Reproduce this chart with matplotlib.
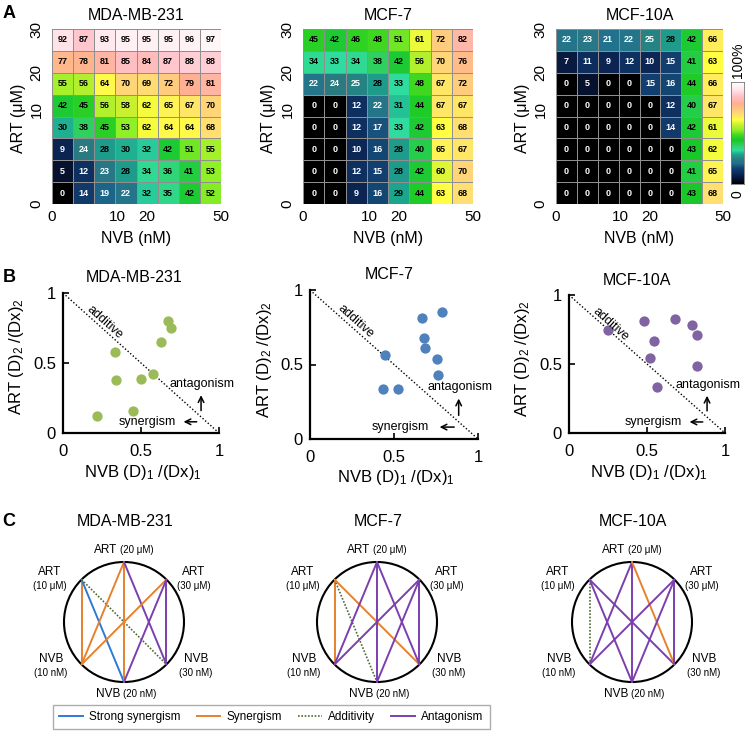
"""Combination heatmaps, isobolograms and interaction networks (ART + NVB)."""

import matplotlib
matplotlib.use('Agg')
import matplotlib.pyplot as plt
import numpy as np
from matplotlib.colors import LinearSegmentedColormap
from matplotlib.lines import Line2D
from matplotlib.patches import Circle

plt.rcParams['font.family'] = ['Liberation Sans', 'DejaVu Sans']
plt.rcParams['mathtext.fontset'] = 'custom'
plt.rcParams['mathtext.rm'] = 'Liberation Sans'
plt.rcParams['mathtext.it'] = 'Liberation Sans:italic'

W, H = 746, 734

# ---- data -----------------------------------------------------------------
cell_lines = ['MDA-MB-231', 'MCF-7', 'MCF-10A']

# % inhibition, rows top (ART high) to bottom (ART 0), columns NVB low -> high
inhib_mda = [
    [92, 87, 93, 95, 95, 95, 96, 97],
    [77, 78, 81, 85, 84, 87, 88, 88],
    [55, 56, 64, 70, 69, 72, 79, 81],
    [42, 45, 56, 58, 62, 65, 67, 70],
    [30, 38, 45, 53, 62, 64, 64, 68],
    [9, 24, 28, 30, 32, 42, 51, 55],
    [5, 12, 23, 28, 34, 36, 41, 53],
    [0, 14, 19, 22, 32, 35, 42, 52],
]
inhib_mcf7 = [
    [45, 42, 46, 48, 51, 61, 72, 82],
    [34, 33, 34, 38, 42, 56, 70, 76],
    [22, 24, 25, 28, 33, 48, 67, 72],
    [0, 0, 12, 22, 31, 44, 67, 67],
    [0, 0, 12, 17, 33, 42, 63, 68],
    [0, 0, 10, 16, 28, 40, 65, 67],
    [0, 0, 12, 15, 28, 42, 60, 70],
    [0, 0, 9, 16, 29, 44, 63, 68],
]
inhib_mcf10a = [
    [22, 23, 21, 22, 25, 28, 42, 66],
    [7, 11, 9, 12, 10, 15, 41, 63],
    [0, 5, 0, 0, 15, 16, 44, 66],
    [0, 0, 0, 0, 0, 12, 40, 67],
    [0, 0, 0, 0, 0, 14, 42, 61],
    [0, 0, 0, 0, 0, 0, 43, 62],
    [0, 0, 0, 0, 0, 0, 41, 65],
    [0, 0, 0, 0, 0, 0, 43, 68],
]
nvb_tick_labels = ['0', '10', '20', '50']
nvb_tick_cells = [0, 3.1, 4.5, 8]
art_tick_labels = ['0', '10', '20', '30']
art_tick_cells = [0, 4.3, 6.0, 8]

# isobologram points: NVB (D)1/(Dx)1, ART (D)2/(Dx)2
iso_x_mda = [0.67, 0.69, 0.63, 0.335, 0.34, 0.50, 0.577, 0.447, 0.216]
iso_y_mda = [0.80, 0.75, 0.65, 0.578, 0.377, 0.389, 0.424, 0.159, 0.121]
iso_x_mcf7 = [0.788, 0.667, 0.677, 0.687, 0.446, 0.758, 0.762, 0.434, 0.523]
iso_y_mcf7 = [0.852, 0.812, 0.675, 0.611, 0.562, 0.540, 0.431, 0.338, 0.338]
iso_x_mcf10a = [0.483, 0.679, 0.791, 0.818, 0.248, 0.545, 0.521, 0.818, 0.562]
iso_y_mcf10a = [0.814, 0.827, 0.783, 0.713, 0.747, 0.665, 0.547, 0.482, 0.335]
iso_colors = ['#9bbb59', '#4f81bd', '#8064a2']

# network: rows ART 10/20/30 uM, cols NVB 10/20/30 nM
art_doses = ['10', '20', '30']
nvb_doses = ['10', '20', '30']
net_mda = [
    ['syn', 'strong', 'add'],
    ['syn', 'syn', 'ant'],
    ['syn', 'ant', 'ant'],
]
net_mcf7 = [
    ['syn', 'add', 'syn'],
    ['ant', 'ant', 'ant'],
    ['ant', 'ant', 'ant'],
]
net_mcf10a = [
    ['add', 'ant', 'ant'],
    ['ant', 'ant', 'syn'],
    ['ant', 'ant', 'ant'],
]
interaction_labels = {'strong': 'Strong synergism', 'syn': 'Synergism',
                      'add': 'Additivity', 'ant': 'Antagonism'}

# ---- styling ----------------------------------------------------------------
heat_cmap = LinearSegmentedColormap.from_list('inhib', [
    (0.00, '#000000'), (0.08, '#0a1f4d'), (0.15, '#123f70'),
    (0.20, '#1f7090'), (0.24, '#2a7a82'), (0.29, '#1aa58c'),
    (0.33, '#30dca0'), (0.38, '#30d060'), (0.43, '#18c828'),
    (0.48, '#40d820'), (0.53, '#90f028'), (0.58, '#c8f030'),
    (0.63, '#ffff40'), (0.68, '#ffe070'), (0.73, '#ffc880'),
    (0.79, '#ffb090'), (0.86, '#ffc0c8'), (0.93, '#ffe8ee'),
    (1.00, '#ffffff'),
])
line_style = {
    'strong': dict(color='#2f7ad6', lw=1.4, ls='-'),
    'syn': dict(color='#e5822e', lw=1.4, ls='-'),
    'add': dict(color='#4f6a35', lw=1.2, ls=(0, (1, 1))),
    'ant': dict(color='#7b3fae', lw=1.4, ls='-'),
}
node_angle_art = [135, 90, 45]
node_angle_nvb = [225, 270, 315]

fig = plt.figure(figsize=(W / 100, H / 100), dpi=100)


def pax(x0, y0, x1, y1):
    return fig.add_axes([x0 / W, 1 - y1 / H, (x1 - x0) / W, (y1 - y0) / H])


def ftext(x, y, s, **kw):
    fig.text(x / W, 1 - y / H, s, **kw)


# ---- A: heatmaps ---------------------------------------------------------------
heat_boxes = [(52, 29, 221, 204), (303, 29, 473, 204), (556, 29, 723, 204)]
heat_data = [inhib_mda, inhib_mcf7, inhib_mcf10a]
for name, data, (x0, y0, x1, y1) in zip(cell_lines, heat_data, heat_boxes):
    ax = pax(x0, y0, x1, y1)
    arr = np.array(data)[::-1]
    ax.pcolormesh(np.arange(9), np.arange(9), arr, cmap=heat_cmap, vmin=0,
                  vmax=100, edgecolors='#8f8f8f', linewidth=0.6)
    n = arr.shape[0]
    for r in range(n):
        for c in range(arr.shape[1]):
            v = arr[r, c]
            ax.text(c + 0.5, r + 0.5, str(v), ha='center', va='center',
                    fontsize=6.5, fontweight='bold',
                    color='white' if v < 27 else 'black')
    ax.set_xlim(0, 8)
    ax.set_ylim(0, 8)
    for s in ax.spines.values():
        s.set_visible(False)
    ax.set_xticks(nvb_tick_cells, nvb_tick_labels)
    ax.set_yticks(art_tick_cells, art_tick_labels, rotation=90, va='center')
    ax.tick_params(length=0, labelsize=11, pad=4)
    ax.tick_params(axis='y', pad=6)
    cx = (x0 + x1) / 2
    ftext(cx, 15, name, ha='center', va='center', fontsize=11.5)
    ftext(cx, 238, 'NVB (nM)', ha='center', va='center', fontsize=11.5)
    ftext(x0 - 34, 118, 'ART (\u03bcM)', ha='center', va='center',
          fontsize=11.5, rotation=90)

cb = pax(731, 82, 744, 184)
cb.imshow(np.linspace(0, 100, 256)[:, None], cmap=heat_cmap, aspect='auto',
          origin='lower', extent=(0, 1, 0, 100))
cb.set_xticks([])
cb.set_yticks([])
for s in cb.spines.values():
    s.set_color('#777777')
    s.set_linewidth(0.6)
ftext(738, 60, '100%', ha='center', va='center', fontsize=10, rotation=90)
ftext(738, 194, '0', ha='center', va='center', fontsize=10, rotation=90)

# ---- B: isobolograms -------------------------------------------------------
iso_boxes = [(63, 293, 219, 433), (310, 290, 478, 439), (569, 295, 725, 433)]
iso_xs = [iso_x_mda, iso_x_mcf7, iso_x_mcf10a]
iso_ys = [iso_y_mda, iso_y_mcf7, iso_y_mcf10a]
iso_title_xy = [(134, 277), (389, 275), (637, 280)]
iso_xlabel_y = [473, 478, 473]
for i, (x0, y0, x1, y1) in enumerate(iso_boxes):
    ax = pax(x0, y0, x1, y1)
    ax.plot([0, 1], [1, 0], color='black', lw=1.0, ls=(0, (1, 1.5)))
    ax.scatter(iso_xs[i], iso_ys[i], s=55, color=iso_colors[i], zorder=3,
               clip_on=False, linewidths=0)
    ax.set_xlim(0, 1)
    ax.set_ylim(0, 1)
    ax.spines[['top', 'right']].set_visible(False)
    for s in ('left', 'bottom'):
        ax.spines[s].set_linewidth(1.6)
    ax.set_xticks([0, 0.5, 1], ['0', '0.5', '1'])
    ax.set_yticks([0, 0.5, 1], ['0', '0.5', '1'])
    ax.tick_params(direction='in', length=4, width=1.2, labelsize=12)
    ax.tick_params(axis='x', pad=8)
    ax.tick_params(axis='y', pad=5)
    ax.text(0.27, 0.79, 'additive', rotation=-42, ha='center', va='center',
            fontsize=9)
    ax.text(0.89, 0.35, 'antagonism', ha='center', va='center', fontsize=9)
    ax.text(0.54, 0.08, 'synergism', ha='center', va='center', fontsize=9)
    ax.annotate('', xy=(0.885, 0.29), xytext=(0.885, 0.14),
                arrowprops=dict(arrowstyle='->', lw=1.1, color='black'))
    ax.annotate('', xy=(0.755, 0.08), xytext=(0.875, 0.08),
                arrowprops=dict(arrowstyle='->', lw=1.1, color='black'))
    tx, ty = iso_title_xy[i]
    ftext(tx, ty, cell_lines[i], ha='center', va='center', fontsize=11.5)
    ftext((x0 + x1) / 2 + 2, iso_xlabel_y[i], 'NVB (D)$_1$ /(Dx)$_1$',
          ha='center', va='center', fontsize=12)
    ftext(x0 - 46, (y0 + y1) / 2 - 6 if i == 0 else (y0 + y1) / 2 - 5,
          'ART (D)$_2$ /(Dx)$_2$', ha='center', va='center', fontsize=12,
          rotation=90)

# ---- C: interaction networks ----------------------------------------------
net_data = [net_mda, net_mcf7, net_mcf10a]
net_cx = [124, 377, 632]
cy, R = 622, 60
for i, cx in enumerate(net_cx):
    ax = pax(cx - 100, cy - 80, cx + 100, cy + 80)
    ax.set_xlim(-100, 100)
    ax.set_ylim(-80, 80)
    ax.axis('off')
    ax.add_patch(Circle((0, 0), R, fill=False, lw=1.5, ec='black'))
    art_xy = [(R * np.cos(np.radians(a)), R * np.sin(np.radians(a)))
              for a in node_angle_art]
    nvb_xy = [(R * np.cos(np.radians(a)), R * np.sin(np.radians(a)))
              for a in node_angle_nvb]
    for a in range(3):
        for b in range(3):
            kind = net_data[i][a][b]
            (xa, ya), (xb, yb) = art_xy[a], nvb_xy[b]
            ax.plot([xa, xb], [ya, yb], clip_on=False,
                    solid_capstyle='round', **line_style[kind])
    big, small = 8.5, 7
    # side labels
    for (lab, dose, unit, sx, sy) in [
            ('ART', art_doses[0], '\u03bcM', -74, 50),
            ('ART', art_doses[2], '\u03bcM', 70, 50),
            ('NVB', nvb_doses[0], 'nM', -73, -37),
            ('NVB', nvb_doses[2], 'nM', 72, -37)]:
        ax.text(sx, sy, lab, ha='center', va='center', fontsize=big)
        ax.text(sx, sy - 14, f'({dose} {unit})', ha='center', va='center',
                fontsize=small)
    ax.text(-7, 72, 'ART', ha='right', va='center', fontsize=big)
    ax.text(-4, 72, f'({art_doses[1]} \u03bcM)', ha='left', va='center',
            fontsize=small)
    ax.text(-4, -72, 'NVB', ha='right', va='center', fontsize=big)
    ax.text(-1, -72, f'({nvb_doses[1]} nM)', ha='left', va='center',
            fontsize=small)
    ftext(cx + 1, 522, cell_lines[i], ha='center', va='center', fontsize=11.5)

handles = [Line2D([], [], **line_style[k]) for k in interaction_labels]
fig.legend(handles, list(interaction_labels.values()), loc='center',
           bbox_to_anchor=(271 / W, 1 - 717 / H), ncol=4, frameon=True,
           fancybox=False, edgecolor='#999999', fontsize=8.5,
           handlelength=2.0, handletextpad=0.5, columnspacing=1.4,
           borderpad=0.55)

# panel letters
for letter, y in [('A', 14), ('B', 277), ('C', 522)]:
    ftext(9, y, letter, ha='center', va='center', fontsize=13,
          fontweight='bold')

fig.savefig('out.png', dpi=100)
